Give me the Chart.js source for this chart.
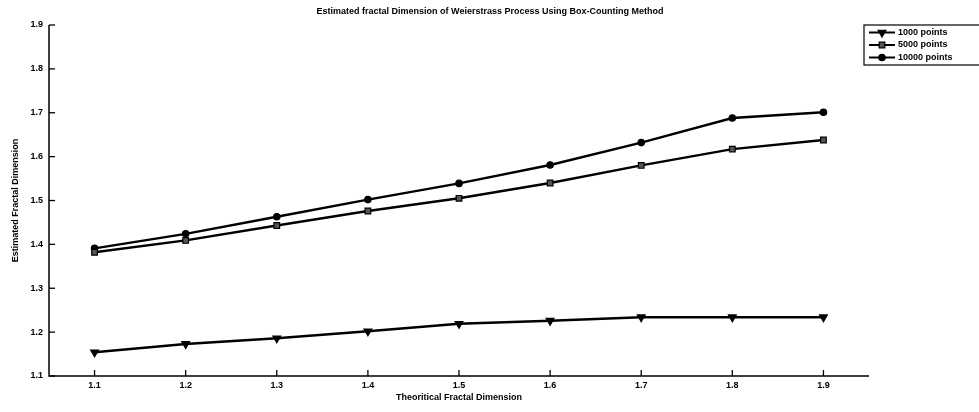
<!DOCTYPE html>
<html>
<head>
<meta charset="utf-8">
<script src="https://cdn.jsdelivr.net/npm/chart.js@4.4.1/dist/chart.umd.min.js"></script>
<style>
  html, body { margin: 0; padding: 0; background: #fff; }
  #wrap { position: relative; width: 979px; height: 412px; }
</style>
</head>
<body>
<div id="wrap"><canvas id="c" width="979" height="412"></canvas></div>
<script>
const theoretical = [1.1, 1.2, 1.3, 1.4, 1.5, 1.6, 1.7, 1.8, 1.9];
const pts1000  = [1.154, 1.173, 1.186, 1.202, 1.219, 1.226, 1.234, 1.234, 1.234];
const pts5000  = [1.382, 1.409, 1.443, 1.476, 1.505, 1.540, 1.580, 1.617, 1.638];
const pts10000 = [1.391, 1.424, 1.463, 1.502, 1.539, 1.581, 1.632, 1.688, 1.701];
const seriesNames = ['1000 points', '5000 points', '10000 points'];
const xTicks = [1.1, 1.2, 1.3, 1.4, 1.5, 1.6, 1.7, 1.8, 1.9];
const yTicks = [1.1, 1.2, 1.3, 1.4, 1.5, 1.6, 1.7, 1.8, 1.9];
const titleText = 'Estimated fractal Dimension of Weierstrass Process Using Box-Counting Method';
const xTitle = 'Theoritical Fractal Dimension';
const yTitle = 'Estimated Fractal Dimension';

const FONT = '"Liberation Sans", Arial, sans-serif';
const toXY = ys => theoretical.map((x, i) => ({x: x, y: ys[i]}));

const styles = [
  {pointStyle: 'triangle', rotation: 180, radius: 4.5},
  {pointStyle: 'rect', rotation: 0, radius: 4},
  {pointStyle: 'circle', rotation: 0, radius: 3.2}
];
const fills = ['#000', '#555', '#000'];
const allSeries = [pts1000, pts5000, pts10000];

const datasets = allSeries.map((ys, i) => ({
  label: seriesNames[i],
  data: toXY(ys),
  borderColor: '#000',
  backgroundColor: fills[i],
  borderWidth: 2.4,
  pointStyle: styles[i].pointStyle,
  rotation: styles[i].rotation,
  pointRadius: styles[i].radius,
  pointBorderWidth: 1.2,
  pointBorderColor: '#000',
  pointBackgroundColor: fills[i],
  tension: 0
}));

const decor = {
  id: 'decor',
  afterDraw(chart) {
    const ctx = chart.ctx;
    const xs = chart.scales.x, ys = chart.scales.y;
    const a = chart.chartArea;
    ctx.save();
    ctx.strokeStyle = '#000';
    ctx.lineWidth = 1.5;
    ctx.beginPath();
    ctx.moveTo(a.left, a.top);
    ctx.lineTo(a.left, a.bottom);
    ctx.lineTo(a.right, a.bottom);
    ctx.stroke();
    ctx.lineWidth = 1.3;
    yTicks.forEach(v => {
      const y = ys.getPixelForValue(v);
      ctx.beginPath(); ctx.moveTo(a.left, y); ctx.lineTo(a.left + 6, y); ctx.stroke();
    });
    xTicks.forEach(v => {
      const x = xs.getPixelForValue(v);
      ctx.beginPath(); ctx.moveTo(x, a.bottom); ctx.lineTo(x, a.bottom - 6); ctx.stroke();
    });
    ctx.fillStyle = '#000';
    ctx.font = 'bold 9px ' + FONT;
    ctx.textAlign = 'right'; ctx.textBaseline = 'middle';
    yTicks.forEach(v => ctx.fillText(v.toFixed(1), a.left - 6, ys.getPixelForValue(v)));
    ctx.textAlign = 'center'; ctx.textBaseline = 'top';
    xTicks.forEach(v => ctx.fillText(v.toFixed(1), xs.getPixelForValue(v), a.bottom + 5));
    ctx.fillText(xTitle, (a.left + a.right) / 2, a.bottom + 17);
    ctx.save();
    ctx.translate(16, (a.top + a.bottom) / 2);
    ctx.rotate(-Math.PI / 2);
    ctx.textBaseline = 'middle';
    ctx.fillText(yTitle, 0, 0);
    ctx.restore();
    ctx.textBaseline = 'middle';
    ctx.fillText(titleText, 490, 12);
    // legend
    const lx = 864, ly = 25, lw = 125, lh = 40;
    ctx.fillStyle = '#fff';
    ctx.fillRect(lx, ly, lw, lh);
    ctx.strokeStyle = '#000'; ctx.lineWidth = 1.2;
    ctx.strokeRect(lx, ly, lw, lh);
    seriesNames.forEach((name, i) => {
      const y = ly + 7.5 + i * 12.5;
      ctx.strokeStyle = '#000'; ctx.lineWidth = 2;
      ctx.beginPath(); ctx.moveTo(lx + 5, y); ctx.lineTo(lx + 31, y); ctx.stroke();
      ctx.fillStyle = fills[i];
      ctx.lineWidth = 1.2;
      Chart.helpers.drawPoint(ctx, {
        pointStyle: styles[i].pointStyle, rotation: styles[i].rotation,
        radius: styles[i].radius, borderWidth: 1.2
      }, lx + 18, y);
      ctx.fillStyle = '#000';
      ctx.textAlign = 'left'; ctx.textBaseline = 'middle';
      ctx.font = 'bold 9px ' + FONT;
      ctx.fillText(name, lx + 34, y);
    });
    ctx.restore();
  }
};

new Chart(document.getElementById('c'), {
  type: 'line',
  data: { datasets: datasets },
  plugins: [decor],
  options: {
    responsive: false,
    animation: false,
    devicePixelRatio: 1,
    layout: { padding: { left: 0, right: 110, top: 25, bottom: 0 } },
    plugins: { legend: { display: false }, tooltip: { enabled: false }, title: { display: false } },
    scales: {
      x: {
        type: 'linear', min: 1.05, max: 1.95,
        grid: { display: false, drawTicks: false },
        border: { display: false },
        ticks: { display: false },
        afterFit(s) { s.height = 36; }
      },
      y: {
        type: 'linear', min: 1.1, max: 1.9,
        grid: { display: false, drawTicks: false },
        border: { display: false },
        ticks: { display: false },
        afterFit(s) { s.width = 49; }
      }
    }
  }
});
</script>
</body>
</html>
